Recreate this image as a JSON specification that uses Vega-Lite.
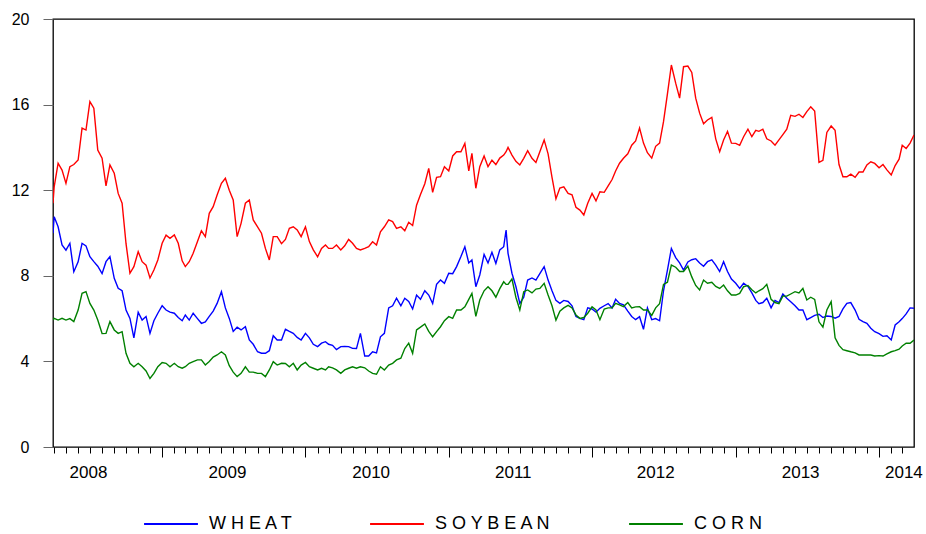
{
"$schema":"https://vega.github.io/schema/vega-lite/v6.json",
"width":861,"height":428,
"autosize":"none",
"padding":{"left":53,"top":19,"right":12,"bottom":87},
"background":"white",
"config":{"font":"Liberation Sans","view":{"stroke":"black","strokeWidth":1.3},"axis":{"grid":false,"domain":false}},
"data":{"values":[
{"d":"2008-03-29","WHEAT":9.99,"SOYBEAN":11.39,"CORN":5.93},
{"d":"2008-04-01","WHEAT":10.76,"SOYBEAN":12.16,"CORN":6.01},
{"d":"2008-04-11","WHEAT":10.29,"SOYBEAN":13.26,"CORN":5.93},
{"d":"2008-04-21","WHEAT":9.44,"SOYBEAN":12.94,"CORN":6.01},
{"d":"2008-05-01","WHEAT":9.2,"SOYBEAN":12.32,"CORN":5.93},
{"d":"2008-05-11","WHEAT":9.52,"SOYBEAN":13.1,"CORN":6.0},
{"d":"2008-05-21","WHEAT":8.19,"SOYBEAN":13.2,"CORN":5.86},
{"d":"2008-06-01","WHEAT":8.65,"SOYBEAN":13.41,"CORN":6.4},
{"d":"2008-06-11","WHEAT":9.52,"SOYBEAN":14.9,"CORN":7.18},
{"d":"2008-06-21","WHEAT":9.4,"SOYBEAN":14.81,"CORN":7.26},
{"d":"2008-07-01","WHEAT":8.89,"SOYBEAN":16.14,"CORN":6.71},
{"d":"2008-07-11","WHEAT":8.66,"SOYBEAN":15.83,"CORN":6.4},
{"d":"2008-07-21","WHEAT":8.45,"SOYBEAN":13.88,"CORN":5.93},
{"d":"2008-08-01","WHEAT":8.1,"SOYBEAN":13.5,"CORN":5.3},
{"d":"2008-08-11","WHEAT":8.66,"SOYBEAN":12.2,"CORN":5.31},
{"d":"2008-08-21","WHEAT":8.9,"SOYBEAN":13.18,"CORN":5.86},
{"d":"2008-09-01","WHEAT":7.88,"SOYBEAN":12.79,"CORN":5.47},
{"d":"2008-09-11","WHEAT":7.42,"SOYBEAN":11.85,"CORN":5.31},
{"d":"2008-09-21","WHEAT":7.3,"SOYBEAN":11.39,"CORN":5.39},
{"d":"2008-10-01","WHEAT":6.4,"SOYBEAN":9.5,"CORN":4.38},
{"d":"2008-10-11","WHEAT":6.01,"SOYBEAN":8.12,"CORN":3.91},
{"d":"2008-10-21","WHEAT":5.1,"SOYBEAN":8.43,"CORN":3.75},
{"d":"2008-11-01","WHEAT":6.3,"SOYBEAN":9.13,"CORN":3.91},
{"d":"2008-11-11","WHEAT":5.93,"SOYBEAN":8.66,"CORN":3.75},
{"d":"2008-11-21","WHEAT":6.1,"SOYBEAN":8.5,"CORN":3.55},
{"d":"2008-12-01","WHEAT":5.31,"SOYBEAN":7.9,"CORN":3.2},
{"d":"2008-12-11","WHEAT":5.9,"SOYBEAN":8.27,"CORN":3.44},
{"d":"2008-12-21","WHEAT":6.25,"SOYBEAN":8.74,"CORN":3.75},
{"d":"2009-01-01","WHEAT":6.6,"SOYBEAN":9.52,"CORN":3.95},
{"d":"2009-01-11","WHEAT":6.4,"SOYBEAN":9.9,"CORN":3.91},
{"d":"2009-01-21","WHEAT":6.3,"SOYBEAN":9.75,"CORN":3.75},
{"d":"2009-02-01","WHEAT":6.25,"SOYBEAN":9.91,"CORN":3.91},
{"d":"2009-02-11","WHEAT":6.05,"SOYBEAN":9.52,"CORN":3.75},
{"d":"2009-02-21","WHEAT":5.9,"SOYBEAN":8.7,"CORN":3.68},
{"d":"2009-03-01","WHEAT":6.17,"SOYBEAN":8.43,"CORN":3.75},
{"d":"2009-03-11","WHEAT":5.93,"SOYBEAN":8.66,"CORN":3.91},
{"d":"2009-03-21","WHEAT":6.25,"SOYBEAN":9.05,"CORN":3.99},
{"d":"2009-04-01","WHEAT":6.0,"SOYBEAN":9.6,"CORN":4.07},
{"d":"2009-04-11","WHEAT":5.78,"SOYBEAN":10.1,"CORN":4.07},
{"d":"2009-04-21","WHEAT":5.85,"SOYBEAN":9.83,"CORN":3.83},
{"d":"2009-05-01","WHEAT":6.1,"SOYBEAN":10.92,"CORN":4.0},
{"d":"2009-05-11","WHEAT":6.35,"SOYBEAN":11.23,"CORN":4.2},
{"d":"2009-05-21","WHEAT":6.71,"SOYBEAN":11.78,"CORN":4.3},
{"d":"2009-06-01","WHEAT":7.26,"SOYBEAN":12.32,"CORN":4.45},
{"d":"2009-06-11","WHEAT":6.5,"SOYBEAN":12.56,"CORN":4.3},
{"d":"2009-06-21","WHEAT":6.01,"SOYBEAN":12.0,"CORN":3.8},
{"d":"2009-07-01","WHEAT":5.4,"SOYBEAN":11.54,"CORN":3.5},
{"d":"2009-07-11","WHEAT":5.6,"SOYBEAN":9.83,"CORN":3.29},
{"d":"2009-07-21","WHEAT":5.47,"SOYBEAN":10.45,"CORN":3.44},
{"d":"2009-08-01","WHEAT":5.62,"SOYBEAN":11.39,"CORN":3.75},
{"d":"2009-08-11","WHEAT":5.0,"SOYBEAN":11.54,"CORN":3.5},
{"d":"2009-08-21","WHEAT":4.8,"SOYBEAN":10.61,"CORN":3.5},
{"d":"2009-09-01","WHEAT":4.45,"SOYBEAN":10.29,"CORN":3.44},
{"d":"2009-09-11","WHEAT":4.38,"SOYBEAN":9.99,"CORN":3.44},
{"d":"2009-09-21","WHEAT":4.38,"SOYBEAN":9.28,"CORN":3.29},
{"d":"2009-10-01","WHEAT":4.5,"SOYBEAN":8.74,"CORN":3.6},
{"d":"2009-10-11","WHEAT":5.2,"SOYBEAN":9.83,"CORN":3.99},
{"d":"2009-10-21","WHEAT":5.0,"SOYBEAN":9.83,"CORN":3.83},
{"d":"2009-11-01","WHEAT":5.0,"SOYBEAN":9.5,"CORN":3.91},
{"d":"2009-11-11","WHEAT":5.5,"SOYBEAN":9.7,"CORN":3.9},
{"d":"2009-11-21","WHEAT":5.4,"SOYBEAN":10.22,"CORN":3.75},
{"d":"2009-12-01","WHEAT":5.31,"SOYBEAN":10.29,"CORN":3.91},
{"d":"2009-12-11","WHEAT":5.12,"SOYBEAN":10.14,"CORN":3.6},
{"d":"2009-12-21","WHEAT":5.0,"SOYBEAN":9.83,"CORN":3.83},
{"d":"2010-01-01","WHEAT":5.31,"SOYBEAN":10.29,"CORN":3.95},
{"d":"2010-01-11","WHEAT":5.1,"SOYBEAN":9.6,"CORN":3.75},
{"d":"2010-01-21","WHEAT":4.8,"SOYBEAN":9.21,"CORN":3.68},
{"d":"2010-02-01","WHEAT":4.69,"SOYBEAN":8.89,"CORN":3.6},
{"d":"2010-02-11","WHEAT":4.85,"SOYBEAN":9.28,"CORN":3.68},
{"d":"2010-02-21","WHEAT":4.92,"SOYBEAN":9.44,"CORN":3.6},
{"d":"2010-03-01","WHEAT":4.8,"SOYBEAN":9.28,"CORN":3.75},
{"d":"2010-03-11","WHEAT":4.75,"SOYBEAN":9.28,"CORN":3.7},
{"d":"2010-03-21","WHEAT":4.55,"SOYBEAN":9.44,"CORN":3.6},
{"d":"2010-04-01","WHEAT":4.69,"SOYBEAN":9.21,"CORN":3.44},
{"d":"2010-04-11","WHEAT":4.7,"SOYBEAN":9.4,"CORN":3.6},
{"d":"2010-04-21","WHEAT":4.69,"SOYBEAN":9.7,"CORN":3.68},
{"d":"2010-05-01","WHEAT":4.61,"SOYBEAN":9.52,"CORN":3.75},
{"d":"2010-05-11","WHEAT":4.6,"SOYBEAN":9.28,"CORN":3.68},
{"d":"2010-05-21","WHEAT":5.31,"SOYBEAN":9.21,"CORN":3.75},
{"d":"2010-06-01","WHEAT":4.25,"SOYBEAN":9.28,"CORN":3.7},
{"d":"2010-06-11","WHEAT":4.25,"SOYBEAN":9.36,"CORN":3.55},
{"d":"2010-06-21","WHEAT":4.45,"SOYBEAN":9.59,"CORN":3.44},
{"d":"2010-07-01","WHEAT":4.4,"SOYBEAN":9.44,"CORN":3.4},
{"d":"2010-07-11","WHEAT":5.15,"SOYBEAN":10.06,"CORN":3.75},
{"d":"2010-07-21","WHEAT":5.31,"SOYBEAN":10.29,"CORN":3.6},
{"d":"2010-08-01","WHEAT":6.5,"SOYBEAN":10.61,"CORN":3.83},
{"d":"2010-08-11","WHEAT":6.6,"SOYBEAN":10.53,"CORN":3.91},
{"d":"2010-08-21","WHEAT":6.95,"SOYBEAN":10.22,"CORN":4.07},
{"d":"2010-09-01","WHEAT":6.6,"SOYBEAN":10.29,"CORN":4.15},
{"d":"2010-09-11","WHEAT":6.95,"SOYBEAN":10.1,"CORN":4.6},
{"d":"2010-09-21","WHEAT":6.8,"SOYBEAN":10.5,"CORN":4.85},
{"d":"2010-10-01","WHEAT":6.45,"SOYBEAN":10.35,"CORN":4.38},
{"d":"2010-10-11","WHEAT":7.1,"SOYBEAN":11.3,"CORN":5.47},
{"d":"2010-10-21","WHEAT":6.9,"SOYBEAN":11.8,"CORN":5.6},
{"d":"2010-11-01","WHEAT":7.3,"SOYBEAN":12.3,"CORN":5.75},
{"d":"2010-11-11","WHEAT":7.1,"SOYBEAN":13.02,"CORN":5.4},
{"d":"2010-11-21","WHEAT":6.7,"SOYBEAN":11.9,"CORN":5.15},
{"d":"2010-12-01","WHEAT":7.6,"SOYBEAN":12.6,"CORN":5.39},
{"d":"2010-12-11","WHEAT":7.8,"SOYBEAN":12.63,"CORN":5.62},
{"d":"2010-12-21","WHEAT":7.65,"SOYBEAN":13.1,"CORN":5.9},
{"d":"2011-01-01","WHEAT":8.12,"SOYBEAN":12.9,"CORN":6.09},
{"d":"2011-01-11","WHEAT":8.1,"SOYBEAN":13.6,"CORN":6.01},
{"d":"2011-01-21","WHEAT":8.43,"SOYBEAN":13.8,"CORN":6.4},
{"d":"2011-02-01","WHEAT":8.9,"SOYBEAN":13.8,"CORN":6.4},
{"d":"2011-02-11","WHEAT":9.36,"SOYBEAN":14.19,"CORN":6.55},
{"d":"2011-02-21","WHEAT":8.6,"SOYBEAN":12.9,"CORN":6.9},
{"d":"2011-03-01","WHEAT":8.74,"SOYBEAN":13.72,"CORN":7.18},
{"d":"2011-03-11","WHEAT":7.49,"SOYBEAN":12.09,"CORN":6.1},
{"d":"2011-03-21","WHEAT":8.04,"SOYBEAN":13.1,"CORN":6.87},
{"d":"2011-04-01","WHEAT":9.0,"SOYBEAN":13.6,"CORN":7.3},
{"d":"2011-04-11","WHEAT":8.6,"SOYBEAN":13.1,"CORN":7.49},
{"d":"2011-04-21","WHEAT":9.1,"SOYBEAN":13.4,"CORN":7.3},
{"d":"2011-05-01","WHEAT":8.58,"SOYBEAN":13.2,"CORN":7.0},
{"d":"2011-05-11","WHEAT":9.21,"SOYBEAN":13.5,"CORN":7.4},
{"d":"2011-05-21","WHEAT":9.36,"SOYBEAN":13.64,"CORN":7.72},
{"d":"2011-05-27","WHEAT":10.14,"SOYBEAN":13.8,"CORN":7.6},
{"d":"2011-06-01","WHEAT":9.05,"SOYBEAN":14.0,"CORN":7.6},
{"d":"2011-06-11","WHEAT":8.12,"SOYBEAN":13.64,"CORN":7.85},
{"d":"2011-06-21","WHEAT":7.5,"SOYBEAN":13.35,"CORN":7.0},
{"d":"2011-07-01","WHEAT":6.71,"SOYBEAN":13.18,"CORN":6.4},
{"d":"2011-07-11","WHEAT":7.0,"SOYBEAN":13.49,"CORN":7.26},
{"d":"2011-07-21","WHEAT":7.8,"SOYBEAN":13.85,"CORN":7.34},
{"d":"2011-08-01","WHEAT":7.9,"SOYBEAN":13.49,"CORN":7.2},
{"d":"2011-08-11","WHEAT":7.8,"SOYBEAN":13.3,"CORN":7.38},
{"d":"2011-08-21","WHEAT":8.1,"SOYBEAN":13.8,"CORN":7.41},
{"d":"2011-09-01","WHEAT":8.43,"SOYBEAN":14.35,"CORN":7.65},
{"d":"2011-09-11","WHEAT":7.8,"SOYBEAN":13.7,"CORN":7.1},
{"d":"2011-09-21","WHEAT":7.3,"SOYBEAN":12.6,"CORN":6.6},
{"d":"2011-10-01","WHEAT":6.85,"SOYBEAN":11.6,"CORN":5.93},
{"d":"2011-10-11","WHEAT":6.71,"SOYBEAN":12.1,"CORN":6.35},
{"d":"2011-10-21","WHEAT":6.85,"SOYBEAN":12.16,"CORN":6.5},
{"d":"2011-11-01","WHEAT":6.8,"SOYBEAN":11.85,"CORN":6.62},
{"d":"2011-11-11","WHEAT":6.6,"SOYBEAN":11.78,"CORN":6.5},
{"d":"2011-11-21","WHEAT":6.1,"SOYBEAN":11.2,"CORN":6.17},
{"d":"2011-12-01","WHEAT":6.01,"SOYBEAN":11.07,"CORN":6.01},
{"d":"2011-12-11","WHEAT":5.95,"SOYBEAN":10.84,"CORN":6.05},
{"d":"2011-12-21","WHEAT":6.5,"SOYBEAN":11.39,"CORN":6.25},
{"d":"2012-01-01","WHEAT":6.45,"SOYBEAN":11.85,"CORN":6.55},
{"d":"2012-01-11","WHEAT":6.3,"SOYBEAN":11.5,"CORN":6.4},
{"d":"2012-01-21","WHEAT":6.48,"SOYBEAN":11.93,"CORN":5.95},
{"d":"2012-02-01","WHEAT":6.6,"SOYBEAN":11.9,"CORN":6.45},
{"d":"2012-02-11","WHEAT":6.7,"SOYBEAN":12.2,"CORN":6.5},
{"d":"2012-02-21","WHEAT":6.5,"SOYBEAN":12.5,"CORN":6.5},
{"d":"2012-03-01","WHEAT":6.9,"SOYBEAN":12.9,"CORN":6.71},
{"d":"2012-03-11","WHEAT":6.71,"SOYBEAN":13.26,"CORN":6.64},
{"d":"2012-03-21","WHEAT":6.64,"SOYBEAN":13.49,"CORN":6.56},
{"d":"2012-04-01","WHEAT":6.35,"SOYBEAN":13.7,"CORN":6.75},
{"d":"2012-04-11","WHEAT":6.1,"SOYBEAN":14.1,"CORN":6.5},
{"d":"2012-04-21","WHEAT":5.95,"SOYBEAN":14.3,"CORN":6.55},
{"d":"2012-05-01","WHEAT":6.09,"SOYBEAN":14.9,"CORN":6.56},
{"d":"2012-05-11","WHEAT":5.5,"SOYBEAN":14.2,"CORN":6.4},
{"d":"2012-05-21","WHEAT":6.5,"SOYBEAN":13.75,"CORN":6.4},
{"d":"2012-06-01","WHEAT":5.95,"SOYBEAN":13.5,"CORN":6.15},
{"d":"2012-06-11","WHEAT":6.0,"SOYBEAN":14.05,"CORN":6.5},
{"d":"2012-06-21","WHEAT":5.9,"SOYBEAN":14.2,"CORN":6.7},
{"d":"2012-07-01","WHEAT":7.3,"SOYBEAN":15.2,"CORN":7.6},
{"d":"2012-07-11","WHEAT":8.27,"SOYBEAN":16.5,"CORN":7.7},
{"d":"2012-07-21","WHEAT":9.28,"SOYBEAN":17.85,"CORN":8.5},
{"d":"2012-08-01","WHEAT":8.85,"SOYBEAN":17.0,"CORN":8.4},
{"d":"2012-08-11","WHEAT":8.6,"SOYBEAN":16.3,"CORN":8.2},
{"d":"2012-08-21","WHEAT":8.27,"SOYBEAN":17.77,"CORN":8.2},
{"d":"2012-09-01","WHEAT":8.65,"SOYBEAN":17.8,"CORN":8.45},
{"d":"2012-09-11","WHEAT":8.75,"SOYBEAN":17.5,"CORN":7.95},
{"d":"2012-09-21","WHEAT":8.8,"SOYBEAN":16.3,"CORN":7.55},
{"d":"2012-10-01","WHEAT":8.6,"SOYBEAN":15.6,"CORN":7.34},
{"d":"2012-10-11","WHEAT":8.45,"SOYBEAN":15.1,"CORN":7.8},
{"d":"2012-10-21","WHEAT":8.66,"SOYBEAN":15.28,"CORN":7.65},
{"d":"2012-11-01","WHEAT":8.75,"SOYBEAN":15.4,"CORN":7.7},
{"d":"2012-11-11","WHEAT":8.5,"SOYBEAN":14.4,"CORN":7.5},
{"d":"2012-11-21","WHEAT":8.2,"SOYBEAN":13.8,"CORN":7.41},
{"d":"2012-12-01","WHEAT":8.66,"SOYBEAN":14.35,"CORN":7.57},
{"d":"2012-12-11","WHEAT":8.2,"SOYBEAN":14.75,"CORN":7.3},
{"d":"2012-12-21","WHEAT":7.85,"SOYBEAN":14.2,"CORN":7.1},
{"d":"2013-01-01","WHEAT":7.65,"SOYBEAN":14.19,"CORN":7.1},
{"d":"2013-01-11","WHEAT":7.41,"SOYBEAN":14.1,"CORN":7.18},
{"d":"2013-01-21","WHEAT":7.65,"SOYBEAN":14.5,"CORN":7.49},
{"d":"2013-02-01","WHEAT":7.5,"SOYBEAN":14.85,"CORN":7.55},
{"d":"2013-02-11","WHEAT":7.2,"SOYBEAN":14.5,"CORN":7.35},
{"d":"2013-02-21","WHEAT":6.85,"SOYBEAN":14.8,"CORN":7.2},
{"d":"2013-03-01","WHEAT":6.7,"SOYBEAN":14.75,"CORN":7.3},
{"d":"2013-03-11","WHEAT":6.75,"SOYBEAN":14.85,"CORN":7.4},
{"d":"2013-03-21","WHEAT":6.95,"SOYBEAN":14.4,"CORN":7.6},
{"d":"2013-04-01","WHEAT":6.5,"SOYBEAN":14.3,"CORN":6.9},
{"d":"2013-04-11","WHEAT":6.85,"SOYBEAN":14.1,"CORN":6.75},
{"d":"2013-04-21","WHEAT":6.75,"SOYBEAN":14.35,"CORN":6.7},
{"d":"2013-05-01","WHEAT":7.15,"SOYBEAN":14.6,"CORN":7.05},
{"d":"2013-05-11","WHEAT":6.95,"SOYBEAN":14.85,"CORN":7.05},
{"d":"2013-05-21","WHEAT":6.79,"SOYBEAN":15.5,"CORN":7.15},
{"d":"2013-06-01","WHEAT":6.6,"SOYBEAN":15.45,"CORN":7.26},
{"d":"2013-06-11","WHEAT":6.4,"SOYBEAN":15.55,"CORN":7.2},
{"d":"2013-06-21","WHEAT":6.4,"SOYBEAN":15.4,"CORN":7.41},
{"d":"2013-07-01","WHEAT":5.95,"SOYBEAN":15.67,"CORN":6.87},
{"d":"2013-07-11","WHEAT":6.05,"SOYBEAN":15.9,"CORN":7.0},
{"d":"2013-07-21","WHEAT":6.15,"SOYBEAN":15.7,"CORN":6.9},
{"d":"2013-08-01","WHEAT":6.2,"SOYBEAN":13.3,"CORN":5.85},
{"d":"2013-08-11","WHEAT":6.05,"SOYBEAN":13.4,"CORN":5.6},
{"d":"2013-08-21","WHEAT":6.12,"SOYBEAN":14.7,"CORN":6.4},
{"d":"2013-09-01","WHEAT":6.1,"SOYBEAN":15.0,"CORN":6.79},
{"d":"2013-09-11","WHEAT":6.02,"SOYBEAN":14.8,"CORN":5.1},
{"d":"2013-09-21","WHEAT":6.1,"SOYBEAN":13.2,"CORN":4.75},
{"d":"2013-10-01","WHEAT":6.45,"SOYBEAN":12.63,"CORN":4.55},
{"d":"2013-10-11","WHEAT":6.71,"SOYBEAN":12.63,"CORN":4.5},
{"d":"2013-10-21","WHEAT":6.75,"SOYBEAN":12.75,"CORN":4.45},
{"d":"2013-11-01","WHEAT":6.4,"SOYBEAN":12.6,"CORN":4.4},
{"d":"2013-11-11","WHEAT":5.97,"SOYBEAN":12.85,"CORN":4.3},
{"d":"2013-11-21","WHEAT":5.86,"SOYBEAN":12.85,"CORN":4.3},
{"d":"2013-12-01","WHEAT":5.78,"SOYBEAN":13.18,"CORN":4.3},
{"d":"2013-12-11","WHEAT":5.55,"SOYBEAN":13.33,"CORN":4.3},
{"d":"2013-12-21","WHEAT":5.39,"SOYBEAN":13.25,"CORN":4.25},
{"d":"2014-01-01","WHEAT":5.3,"SOYBEAN":13.05,"CORN":4.27},
{"d":"2014-01-11","WHEAT":5.17,"SOYBEAN":13.2,"CORN":4.25},
{"d":"2014-01-21","WHEAT":5.2,"SOYBEAN":12.95,"CORN":4.35},
{"d":"2014-02-01","WHEAT":5.0,"SOYBEAN":12.71,"CORN":4.45},
{"d":"2014-02-11","WHEAT":5.7,"SOYBEAN":13.15,"CORN":4.5},
{"d":"2014-02-21","WHEAT":5.85,"SOYBEAN":13.45,"CORN":4.57},
{"d":"2014-03-01","WHEAT":6.0,"SOYBEAN":14.1,"CORN":4.72},
{"d":"2014-03-11","WHEAT":6.22,"SOYBEAN":13.95,"CORN":4.85},
{"d":"2014-03-21","WHEAT":6.5,"SOYBEAN":14.2,"CORN":4.85},
{"d":"2014-03-31","WHEAT":6.48,"SOYBEAN":14.58,"CORN":5.0}
]},
"transform":[{"fold":["WHEAT","SOYBEAN","CORN"],"as":["series","price"]}],
"layer":[
{"mark":{"type":"line","strokeWidth":1.4,"clip":true},
 "encoding":{
  "x":{"field":"d","type":"temporal",
   "scale":{"type":"utc","domain":[{"year":2008,"month":3,"date":29,"utc":true},{"year":2014,"month":3,"date":31,"utc":true}]},
   "axis":{"orient":"bottom","tickCount":{"interval":"year","step":1},"tickSize":10,"tickColor":"black","tickWidth":1,"labels":false,"title":null,"domain":false,"grid":false}},
  "y":{"field":"price","type":"quantitative","scale":{"domain":[0,20],"nice":false,"zero":false},
   "axis":{"values":[0,4,8,12,16,20],"tickSize":10,"tickColor":"#666666","labelFontSize":16,"labelColor":"black","labelPadding":14,"title":null,"domain":false,"grid":false}},
  "color":{"field":"series","type":"nominal",
   "scale":{"domain":["WHEAT","SOYBEAN","CORN"],"range":["#0000ff","#ff0000","#008000"]},
   "legend":{"orient":"none","legendX":90,"legendY":477,"direction":"horizontal","title":null,"symbolType":"stroke","symbolSize":2900,"symbolStrokeWidth":2,"labelFontSize":18,"labelColor":"black","labelOffset":10,"columnPadding":72,"padding":0,
    "labelExpr":"datum.label == 'WHEAT' ? 'W H E A T' : datum.label == 'SOYBEAN' ? 'S O Y B E A N' : 'C O R N'"}}
 }},
{"mark":{"type":"point","opacity":0},
 "encoding":{
  "x":{"field":"d","type":"temporal",
   "axis":{"orient":"bottom","tickCount":{"interval":"month","step":1},"tickSize":6,"tickColor":"black","tickWidth":1,"labels":false,"title":null,"domain":false,"grid":false}}
 }},
{"mark":{"type":"point","opacity":0},
 "encoding":{
  "x":{"field":"d","type":"temporal",
   "axis":{"orient":"bottom","values":[
     {"year":2008,"month":6,"date":26,"utc":true},
     {"year":2009,"month":6,"date":15,"utc":true},
     {"year":2010,"month":6,"date":16,"utc":true},
     {"year":2011,"month":6,"date":13,"utc":true},
     {"year":2012,"month":6,"date":10,"utc":true},
     {"year":2013,"month":6,"date":14,"utc":true},
     {"year":2014,"month":3,"date":4,"utc":true}],
    "format":"%Y","ticks":false,"labelFontSize":17,"labelColor":"black","labelPadding":17,"labelFlush":false,"labelOverlap":false,"title":null,"domain":false,"grid":false}}
 }}
],
"resolve":{"axis":{"x":"independent"}}
}
